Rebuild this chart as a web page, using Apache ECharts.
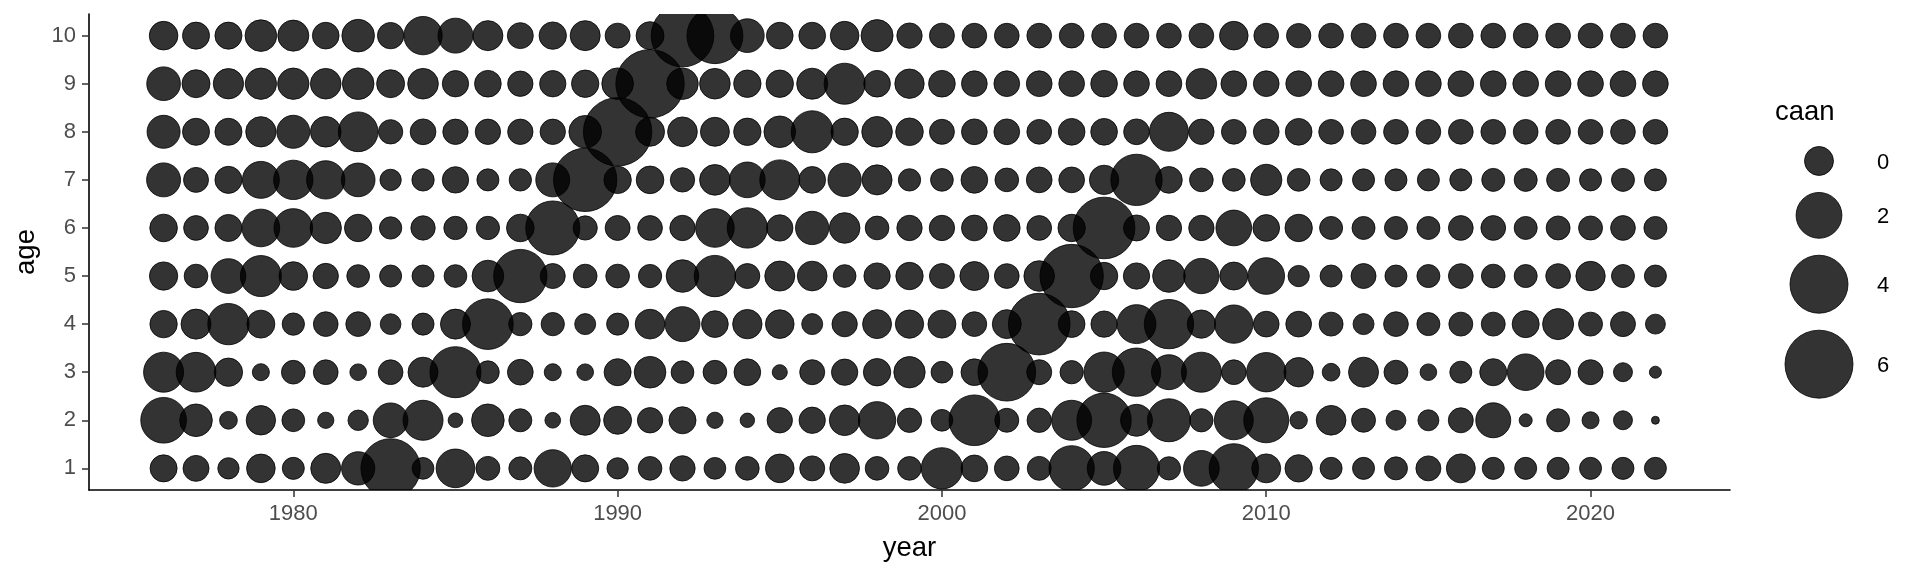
<!DOCTYPE html>
<html>
<head>
  <meta charset="utf-8" />
  <title>caan by year and age</title>
  <script src="https://cdn.jsdelivr.net/npm/echarts@6/dist/echarts.min.js"></script>
  <style>
    html, body { margin: 0; padding: 0; background: #ffffff; }
    #chart { width: 1920px; height: 576px; }
  </style>
</head>
<body>
  <div id="chart"></div>
  <script>
    // years on the x axis
    const years = [1976, 1977, 1978, 1979, 1980, 1981, 1982, 1983, 1984, 1985, 1986, 1987,
                   1988, 1989, 1990, 1991, 1992, 1993, 1994, 1995, 1996, 1997, 1998, 1999,
                   2000, 2001, 2002, 2003, 2004, 2005, 2006, 2007, 2008, 2009, 2010, 2011,
                   2012, 2013, 2014, 2015, 2016, 2017, 2018, 2019, 2020, 2021, 2022];
    const ages = [1, 2, 3, 4, 5, 6, 7, 8, 9, 10];

    // caan per age, one value per year
    const caanAge1 = [-0.17, -0.26, -0.61, -0.03, -0.56, 0.10, 0.43, 4.26, -0.58, 1.04, -0.42, -0.49,
                      0.88, -0.17, -0.61, -0.44, -0.31, -0.58, -0.44, -0.03, -0.34, 0.07, -0.44, -0.44,
                      1.38, -0.20, -0.36, -0.42, 1.93, 0.47, 2.03, -0.47, 0.69, 2.53, 0.00, -0.14,
                      -0.56, -0.56, -0.49, -0.34, 0.00, -0.56, -0.56, -0.56, -0.56, -0.56, -0.56];
    const caanAge2 = [1.98, 0.36, -0.83, 0.04, -0.51, -0.91, -0.67, 0.58, 1.21, -0.99, 0.36, -0.49,
                      -0.94, 0.10, -0.09, -0.31, -0.17, -0.91, -1.00, -0.31, -0.23, 0.16, 0.88, -0.39,
                      -0.58, 2.74, -0.42, -0.39, 1.21, 3.36, 0.30, 1.60, -0.47, 1.08, 1.88, -0.85,
                      0.07, -0.42, -0.70, -0.63, -0.34, 0.61, -1.06, -0.49, -0.87, -0.76, -1.23];
    const caanAge3 = [1.21, 1.17, -0.06, -0.87, -0.44, -0.36, -0.89, -0.36, 0.10, 2.80, -0.51, -0.28,
                      -0.87, -0.89, -0.17, 0.26, -0.51, -0.44, -0.20, -0.97, -0.34, -0.23, -0.14, 0.23,
                      -0.58, -0.20, 3.95, -0.34, -0.47, 1.25, 2.38, 0.61, 1.21, -0.36, 1.13, 0.04,
                      -0.83, 0.10, -0.42, -0.89, -0.56, -0.17, 0.80, -0.34, -0.34, -0.76, -1.10];
    const caanAge4 = [-0.14, 0.10, 1.38, -0.09, -0.54, -0.36, -0.36, -0.65, -0.56, 0.10, 2.74, -0.47,
                      -0.47, -0.63, -0.56, 0.07, 0.61, -0.20, 0.04, -0.03, -0.63, -0.31, 0.00, -0.06,
                      -0.09, -0.36, 0.00, 4.70, -0.20, -0.23, 1.08, 2.53, -0.06, 1.00, -0.28, -0.28,
                      -0.42, -0.63, -0.36, -0.49, -0.42, -0.42, -0.17, 0.20, -0.42, -0.34, -0.70];
    const caanAge5 = [-0.06, -0.44, 0.58, 1.34, -0.03, -0.31, -0.51, -0.56, -0.56, -0.51, 0.26, 3.18,
                      -0.34, -0.44, -0.44, -0.47, 0.36, 1.38, -0.34, 0.10, 0.07, -0.51, -0.23, -0.14,
                      -0.34, 0.00, -0.36, 0.16, 5.04, -0.14, -0.23, 0.36, 0.65, -0.09, 0.80, -0.61,
                      -0.56, -0.34, -0.56, -0.49, -0.36, -0.44, -0.49, -0.36, 0.04, -0.49, -0.56];
    const caanAge6 = [-0.12, -0.36, -0.17, 0.92, 1.04, 0.23, -0.14, -0.54, -0.39, -0.47, -0.47, -0.12,
                      3.30, -0.40, -0.34, -0.36, -0.31, 1.04, 1.25, -0.23, 0.43, 0.16, -0.44, -0.31,
                      -0.31, -0.28, -0.20, -0.36, -0.14, 4.70, -0.26, -0.31, -0.31, 0.69, -0.20, -0.14,
                      -0.49, -0.49, -0.49, -0.49, -0.36, -0.36, -0.49, -0.42, -0.42, -0.36, -0.49];
    const caanAge7 = [0.50, -0.34, -0.17, 0.84, 1.13, 1.00, 0.47, -0.61, -0.54, -0.23, -0.56, -0.54,
                      0.50, 5.04, -0.14, -0.12, -0.39, 0.16, 0.69, 1.21, -0.20, 0.43, 0.10, -0.54,
                      -0.51, -0.20, -0.44, -0.28, -0.28, 0.04, 2.85, -0.20, -0.44, -0.51, 0.23, -0.51,
                      -0.56, -0.56, -0.56, -0.56, -0.56, -0.49, -0.49, -0.49, -0.56, -0.49, -0.56];
    const caanAge8 = [0.40, -0.17, -0.17, 0.13, 0.40, 0.16, 1.17, -0.39, -0.28, -0.31, -0.31, -0.31,
                      -0.31, 0.36, 6.10, 0.00, 0.07, 0.00, -0.14, 0.26, 1.47, -0.14, 0.16, -0.12,
                      -0.34, -0.28, -0.28, -0.36, -0.20, -0.20, -0.28, 1.08, -0.31, -0.36, -0.28, -0.20,
                      -0.36, -0.36, -0.36, -0.36, -0.36, -0.36, -0.36, -0.36, -0.36, -0.36, -0.36];
    const caanAge9 = [0.47, -0.09, 0.13, 0.23, 0.23, 0.16, 0.26, -0.09, 0.16, -0.23, -0.20, -0.31,
                      -0.23, -0.14, 0.26, 6.10, 0.25, 0.16, -0.14, -0.14, 0.20, 1.34, -0.20, 0.04,
                      -0.20, -0.28, -0.28, -0.28, -0.28, -0.20, -0.28, -0.28, 0.16, -0.28, -0.28, -0.28,
                      -0.28, -0.28, -0.28, -0.28, -0.28, -0.28, -0.28, -0.28, -0.28, -0.28, -0.28];
    const caanAge10 = [-0.03, -0.17, -0.17, 0.26, 0.20, -0.20, 0.36, -0.23, 1.00, 0.61, 0.10, -0.26,
                       -0.14, 0.10, -0.34, -0.09, 4.90, 3.65, 0.47, -0.20, -0.20, -0.03, 0.30, -0.31,
                       -0.34, -0.36, -0.36, -0.36, -0.36, -0.36, -0.36, -0.36, -0.36, -0.03, -0.36, -0.39,
                       -0.36, -0.36, -0.36, -0.36, -0.36, -0.36, -0.36, -0.36, -0.36, -0.36, -0.36];

    const yearTicks = [1980, 1990, 2000, 2010, 2020];
    const ageTicks = [1, 2, 3, 4, 5, 6, 7, 8, 9, 10];
    const legendValues = [0, 2, 4, 6];

    const caanByAge = [caanAge1, caanAge2, caanAge3, caanAge4, caanAge5,
                       caanAge6, caanAge7, caanAge8, caanAge9, caanAge10];

    // size scale: circle area grows linearly with caan
    function bubbleSize(v) {
      return Math.sqrt(630 * Math.max(v + 1.33, 0.02));
    }

    const points = [];
    ages.forEach((age, i) => {
      years.forEach((yr, j) => {
        points.push([yr, age, caanByAge[i][j]]);
      });
    });

    const FONT = "'Liberation Sans', Arial, sans-serif";
    const FILL = 'rgba(0,0,0,0.8)';

    // legend drawn as graphics, keys stacked like ggplot
    const legendGraphics = [{
      type: 'text', left: 1775, top: 98,
      style: { text: 'caan', font: '27.5px ' + FONT, fill: '#000' }
    }];
    let keyTop = 138;
    legendValues.forEach(v => {
      const d = bubbleSize(v);
      const h = d + 17;
      const cy = keyTop + h / 2;
      legendGraphics.push({
        type: 'circle',
        shape: { cx: 1819, cy: cy, r: d / 2 },
        style: { fill: FILL, stroke: FILL, lineWidth: 1 }
      });
      legendGraphics.push({
        type: 'text', x: 1877, y: cy + 2,
        style: { text: String(v), font: '22px ' + FONT, fill: '#000', verticalAlign: 'middle', align: 'left' }
      });
      keyTop += h;
    });

    const chart = echarts.init(document.getElementById('chart'));
    chart.setOption({
      animation: false,
      backgroundColor: '#ffffff',
      textStyle: { fontFamily: FONT },
      grid: { left: 89, right: 190, top: 14, bottom: 86 },
      xAxis: {
        type: 'value',
        min: 1973.7,
        max: 2024.3,
        name: 'year',
        nameLocation: 'middle',
        nameGap: 44,
        nameTextStyle: { color: '#000', fontSize: 27.5, fontFamily: FONT },
        splitLine: { show: false },
        axisLine: { show: true, lineStyle: { color: '#000', width: 1.6 } },
        axisTick: { show: true, customValues: yearTicks, length: 7, lineStyle: { color: '#333', width: 1.5 } },
        axisLabel: {
          customValues: yearTicks, color: '#4d4d4d', fontSize: 22, margin: 13, fontFamily: FONT,
          formatter: v => String(v)
        }
      },
      yAxis: {
        type: 'value',
        min: 0.55,
        max: 10.45,
        name: 'age',
        nameLocation: 'middle',
        nameGap: 46,
        nameRotate: 90,
        nameTextStyle: { color: '#000', fontSize: 27.5, fontFamily: FONT },
        splitLine: { show: false },
        axisLine: { show: true, lineStyle: { color: '#000', width: 1.6 } },
        axisTick: { show: true, customValues: ageTicks, length: 7, lineStyle: { color: '#333', width: 1.5 } },
        axisLabel: {
          customValues: ageTicks, color: '#4d4d4d', fontSize: 22, margin: 13, fontFamily: FONT,
          formatter: v => String(v)
        }
      },
      series: [{
        // custom series so that big bubbles are cut at the panel edge
        type: 'custom',
        data: points,
        clip: true,
        encode: { x: 0, y: 1 },
        renderItem: function (params, api) {
          const c = api.coord([api.value(0), api.value(1)]);
          const r = bubbleSize(api.value(2)) / 2;
          return {
            type: 'circle',
            shape: { cx: c[0], cy: c[1], r: r },
            style: { fill: FILL, stroke: FILL, lineWidth: 1 }
          };
        },
        emphasis: { disabled: true }
      }],
      graphic: legendGraphics
    });
  </script>
</body>
</html>
